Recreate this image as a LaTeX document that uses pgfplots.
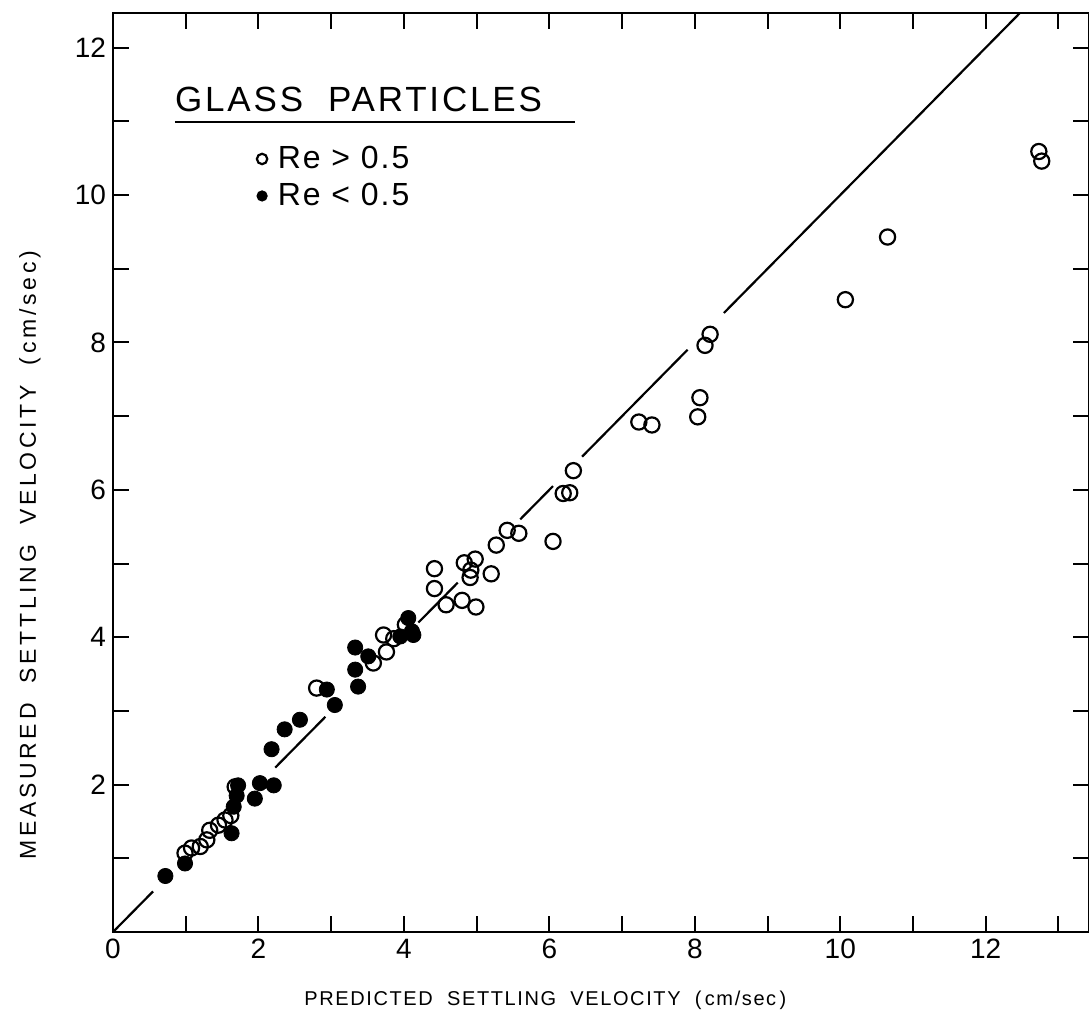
\documentclass[border=0pt]{standalone}
\usepackage{fontspec}
\setmainfont{Liberation Sans}
\newfontfamily\labfont[LetterSpace=8]{Liberation Sans}
\newfontfamily\ylabfont[LetterSpace=16]{Liberation Sans}
\newfontfamily\titfont[LetterSpace=8]{Liberation Sans}
\newfontfamily\legfont[LetterSpace=6]{Liberation Sans}
\usepackage{pgfplots}
\pgfplotsset{compat=1.18}
\begin{document}
\begin{tikzpicture}
\begin{axis}[
  scale only axis, width=488pt, height=459.5pt,
  xmin=0, xmax=13.42, ymin=0, ymax=12.47,
  axis line style={line width=1.3pt},
  xtick={0,1,...,13}, xticklabels={0,,2,,4,,6,,8,,10,,12,},
  ytick={1,2,...,12}, yticklabels={,2,,4,,6,,8,,10,,12},
  tick align=inside, major tick length=8pt,
  tick style={line width=1pt, black},
  every tick label/.append style={font=\fontsize{14}{16}\selectfont},
  /pgf/number format/assume math mode=true,
  xlabel={\labfont PREDICTED\ \ SETTLING\ \ VELOCITY\ \ (\,cm/sec\,)},
  ylabel={\ylabfont MEASURED\ \ SETTLING\ \ VELOCITY\ \ (\,cm/sec\,)},
  xlabel style={at={(axis description cs:0.443,-0.074)}, anchor=center, font=\fontsize{10}{12}\selectfont},
  ylabel style={at={(axis description cs:-0.085,0.41)}, anchor=center, font=\fontsize{11.5}{13}\selectfont},
  legend style={at={(axis cs:1.80,10.80)}, anchor=north west, draw=none, fill=none,
    font=\legfont\fontsize{16}{18.5}\selectfont, row sep=0pt,
    nodes={inner sep=2pt, minimum height=18.5pt}},
  legend cell align=left,
  legend image code/.code={\path (0cm,0cm) (0.4cm,0cm); \draw[#1] plot coordinates {(0.2cm,0cm)};},
]
% y = x reference line (broken where points sit on it)
\addplot[line width=1.1pt, forget plot] coordinates {(0,0) (0.55,0.55)};
\addplot[line width=1.1pt, forget plot] coordinates {(2.23,2.23) (2.92,2.92)};
\addplot[line width=1.1pt, forget plot] coordinates {(4.20,4.20) (4.74,4.74)};
\addplot[line width=1.1pt, forget plot] coordinates {(5.60,5.60) (6.05,6.05)};
\addplot[line width=1.1pt, forget plot] coordinates {(6.45,6.45) (7.90,7.90)};
\addplot[line width=1.1pt, forget plot] coordinates {(8.40,8.40) (12.47,12.47)};
% Re < 0.5 (filled)
\addplot[only marks, mark=*, mark size=3.8pt, black, forget plot] coordinates {
(0.72,0.76) (0.99,0.93) (1.63,1.34) (1.66,1.70) (1.70,1.85) (1.72,1.99) (1.95,1.81)
(2.02,2.02) (2.21,1.99) (2.18,2.48) (2.36,2.75) (2.57,2.88) (2.94,3.29) (3.05,3.08)
(3.33,3.86) (3.51,3.74) (3.33,3.56) (3.37,3.33) (3.95,4.01) (4.06,4.26) (4.13,4.03) (4.11,4.08)
};
% Re > 0.5 (open)
\addplot[only marks, mark=o, mark size=3.8pt, mark options={line width=1.1pt, fill=white}, black,
  legend image post style={mark size=2.6pt}] coordinates {
(0.99,1.07) (1.08,1.14) (1.20,1.16) (1.29,1.25) (1.33,1.38) (1.45,1.45) (1.54,1.52) (1.62,1.58)
(1.68,1.97) (2.80,3.31)
(3.58,3.65) (3.76,3.80) (3.72,4.03) (3.86,3.98) (4.02,4.17)
(4.42,4.93) (4.42,4.66) (4.58,4.44) (4.80,4.50) (4.99,4.41) (4.83,5.01) (4.98,5.06)
(4.92,4.91) (4.91,4.81) (5.20,4.86) (5.27,5.25) (5.42,5.45) (5.58,5.41) (6.05,5.30)
(6.19,5.95) (6.28,5.96) (6.33,6.26) (7.23,6.92) (7.41,6.88) (8.04,6.99) (8.07,7.25)
(8.14,7.96) (8.21,8.11) (10.07,8.58) (10.65,9.43) (12.73,10.59) (12.77,10.46)
};
\addlegendentry{Re > 0.5}
\addlegendimage{only marks, mark=*, mark size=2.6pt, black}
\addlegendentry{Re < 0.5}
\node[anchor=base west, inner sep=0pt, font=\titfont\fontsize{17.5}{20}\selectfont] at (axis cs:0.85,11.13) {GLASS\ \ PARTICLES};
\draw[line width=1.2pt] (axis cs:0.85,10.99) -- (axis cs:6.35,10.99);
\end{axis}
\pgfresetboundingbox
\path ([xshift=-56.5pt,yshift=-42pt]current axis.south west) rectangle ([yshift=6.5pt]current axis.north east);
\end{tikzpicture}
\end{document}
